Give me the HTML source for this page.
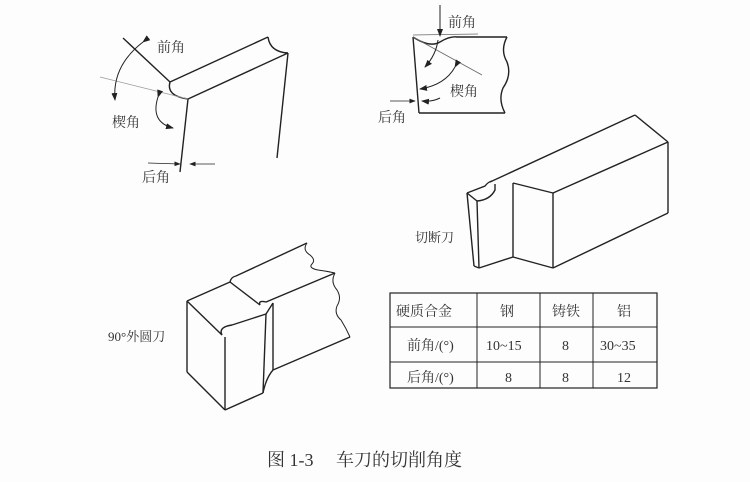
<!DOCTYPE html>
<html><head><meta charset="utf-8"><style>
html,body{margin:0;padding:0;background:#fdfdfd;}
svg{display:block;}
text{font-family:"Liberation Serif","Noto Serif CJK SC",serif;fill:#333;}
</style></head><body>
<svg width="750" height="482" viewBox="0 0 750 482" xmlns="http://www.w3.org/2000/svg">
<defs><marker id="ar" markerWidth="8" markerHeight="6" refX="7" refY="3" orient="auto"><path d="M0,0 L8,3 L0,6 z" fill="#222"/></marker></defs>
<g fill="none" stroke="#222" stroke-width="1.4">
<!-- Tool 1 -->
<line x1="123" y1="38" x2="170" y2="82"/>
<line x1="170" y1="82" x2="268" y2="37"/>
<line x1="188" y1="99" x2="288" y2="53"/>
<path d="M170,82 Q166,96 188,99"/>
<path d="M268,37 Q270,52 288,53"/>
<line x1="188" y1="99" x2="180" y2="172"/>
<line x1="288" y1="53" x2="277" y2="158"/>
<line x1="100" y1="77" x2="188" y2="99" stroke="#999" stroke-width="0.8"/>
<path d="M143,42 Q112,66 115,100" stroke-width="1" marker-start="url(#ar)" marker-end="url(#ar)"/>
<path d="M158,97 Q150,122 173,128" stroke-width="1" marker-start="url(#ar)" marker-end="url(#ar)"/>
<line x1="148" y1="163" x2="180" y2="164" stroke-width="0.8" marker-end="url(#ar)"/>
<line x1="215" y1="164" x2="190" y2="164" stroke-width="0.8" marker-end="url(#ar)"/>
<!-- Tool 2 section -->
<path d="M413,37 Q430,48 440,42 Q450,36 457,37 L507,37"/>
<path d="M507,37 Q500,50 507,62 Q512,75 503,88 Q498,100 505,113"/>
<line x1="505" y1="113" x2="419" y2="113"/>
<line x1="419" y1="113" x2="413" y2="37"/>
<line x1="413" y1="37" x2="482" y2="75" stroke="#666" stroke-width="0.8"/>
<line x1="413" y1="35" x2="478" y2="34" stroke="#666" stroke-width="0.8"/>
<line x1="440" y1="5" x2="440" y2="36" stroke-width="1" marker-end="url(#ar)"/>
<path d="M438,40 Q436,55 425,67" stroke-width="1" marker-end="url(#ar)"/>
<path d="M455,67 Q445,85 420,89" stroke-width="1" marker-start="url(#ar)" marker-end="url(#ar)"/>
<path d="M440,98 Q432,102 422,101" stroke-width="1" marker-end="url(#ar)"/>
<line x1="390" y1="101" x2="415" y2="101" stroke-width="0.8" marker-end="url(#ar)"/>
<!-- Cutoff tool -->
<line x1="467" y1="193" x2="474" y2="266"/>
<line x1="467" y1="193" x2="477" y2="201"/>
<line x1="477" y1="201" x2="479" y2="268"/>
<path d="M477,201 Q490,200 495,190 L495,184"/>
<path d="M467,193 L485,186 Q488,182 492,181"/>
<line x1="490" y1="182" x2="635" y2="115"/>
<line x1="635" y1="115" x2="668" y2="142"/>
<line x1="668" y1="142" x2="668" y2="213"/>
<line x1="668" y1="213" x2="553" y2="268"/>
<line x1="553" y1="193" x2="553" y2="268"/>
<line x1="553" y1="193" x2="668" y2="142"/>
<line x1="553" y1="193" x2="513" y2="183"/>
<line x1="513" y1="183" x2="513" y2="257"/>
<line x1="513" y1="257" x2="553" y2="268"/>
<line x1="513" y1="257" x2="479" y2="268"/>
<line x1="474" y1="266" x2="479" y2="268"/>
<!-- 90 tool -->
<line x1="187" y1="301" x2="187" y2="372"/>
<line x1="187" y1="372" x2="225" y2="410"/>
<line x1="187" y1="301" x2="222" y2="335"/>
<path d="M222,335 Q218,327 232,325"/>
<line x1="225" y1="337" x2="225" y2="410"/>
<line x1="225" y1="410" x2="263" y2="393"/>
<line x1="232" y1="325" x2="266" y2="314"/>
<line x1="266" y1="314" x2="263" y2="393"/>
<line x1="187" y1="301" x2="230" y2="282"/>
<line x1="230" y1="282" x2="260" y2="305"/>
<path d="M230,282 Q231,277 236,276 L307,243"/>
<path d="M260,305 Q258,300 266,302 L335,273"/>
<path d="M307,243 Q302,250 310,255 Q316,260 312,264 Q308,268 318,270 Q326,271 335,273" stroke-width="1"/>
<path d="M335,273 Q330,282 337,290 Q342,298 337,306 Q334,314 341,320 Q346,328 350,337" stroke-width="1"/>
<line x1="273" y1="303" x2="273" y2="370"/>
<line x1="273" y1="370" x2="350" y2="337"/>
<path d="M266,314 L273,303"/>
<path d="M263,393 Q266,378 273,370"/>
<!-- table -->
<rect x="390" y="293" width="267" height="95" stroke-width="1.2"/>
<line x1="390" y1="327" x2="657" y2="327" stroke-width="1"/>
<line x1="390" y1="362" x2="657" y2="362" stroke-width="1"/>
<line x1="477" y1="293" x2="477" y2="388" stroke-width="1"/>
<line x1="540" y1="293" x2="540" y2="388" stroke-width="1"/>
<line x1="593" y1="293" x2="593" y2="388" stroke-width="1"/>
</g>
<g font-size="14">
<text x="157" y="52">前角</text>
<text x="112" y="127">楔角</text>
<text x="142" y="182">后角</text>
<text x="448" y="27">前角</text>
<text x="450" y="96">楔角</text>
<text x="378" y="122">后角</text>
<text x="415" y="242" font-size="13">切断刀</text>
<text x="108" y="341" font-size="13">90°外圆刀</text>
<text x="396" y="316">硬质合金</text>
<text x="500" y="316">钢</text>
<text x="552" y="316">铸铁</text>
<text x="617" y="316">铝</text>
<text x="407" y="350">前角/(°)</text>
<text x="486" y="350">10~15</text>
<text x="562" y="350">8</text>
<text x="600" y="350">30~35</text>
<text x="407" y="382">后角/(°)</text>
<text x="505" y="382">8</text>
<text x="562" y="382">8</text>
<text x="617" y="382">12</text>
</g>
<text x="267" y="466" font-size="18">图 1-3　 车刀的切削角度</text>
</svg>
</body></html>
